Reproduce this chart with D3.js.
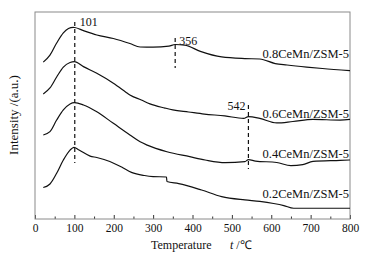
<!DOCTYPE html>
<html>
<head>
<meta charset="utf-8">
<script src="https://cdn.jsdelivr.net/npm/d3@7"></script>
<style>
  body { margin: 0; background: #fff; }
  text { font-family: "Liberation Serif", "Times New Roman", serif; fill: #111; }
</style>
</head>
<body>
<div id="chart"></div>
<script>
// temperatures (°C) sampled along each TPD curve
const temp08 = [21, 38, 55, 72, 85, 97, 101, 123, 157, 199, 241, 267, 300, 340, 356, 380, 420, 474, 533, 571, 610, 640, 690, 730, 800];
const int08 = [75.8, 79.2, 85.0, 89.9, 92.0, 92.6, 92.5, 91.0, 88.9, 87.2, 84.8, 83.1, 83.0, 83.5, 84.3, 84.0, 81.0, 78.3, 77.5, 77.3, 75.1, 74.4, 73.4, 72.7, 71.7];

const temp06 = [21, 38, 55, 72, 89, 100, 123, 157, 199, 230, 241, 270, 292, 330, 350, 390, 430, 482, 530, 542, 571, 614, 655, 706, 775, 800];
const int06 = [60.4, 63.3, 68.6, 73.4, 75.6, 76.0, 73.6, 70.4, 65.6, 61.4, 59.9, 57.5, 55.6, 53.6, 52.7, 51.7, 50.7, 49.8, 48.6, 49.5, 48.6, 46.4, 47.1, 48.1, 47.8, 48.1];

const temp04 = [21, 38, 55, 72, 89, 100, 123, 157, 199, 241, 267, 285, 335, 393, 432, 483, 533, 542, 560, 614, 650, 680, 706, 775, 800];
const int04 = [40.6, 42.2, 47.8, 52.7, 55.6, 56.2, 55.1, 51.8, 46.2, 40.6, 37.3, 35.7, 32.5, 30.1, 28.5, 27.2, 27.7, 28.7, 28.0, 27.3, 25.8, 26.3, 27.8, 28.3, 28.5];

const temp02 = [21, 38, 55, 72, 89, 99, 112, 140, 157, 190, 220, 245, 278, 300, 334, 335, 365, 423, 474, 533, 571, 606, 632, 657, 700, 800];
const int02 = [15.2, 16.9, 22.1, 28.5, 33.3, 34.6, 33.3, 30.4, 29.7, 27.8, 25.1, 22.5, 21.0, 20.5, 20.3, 18.1, 17.1, 14.0, 10.8, 9.2, 8.5, 7.5, 6.5, 5.2, 5.2, 5.2];

const seriesNames = ["0.8CeMn/ZSM-5", "0.6CeMn/ZSM-5", "0.4CeMn/ZSM-5", "0.2CeMn/ZSM-5"];

// marked peaks: temperature, dashed line extent (a.u.)
const peakTemps = [101, 356, 542];
const peakTop = [95.2, 87.4, 55.1];
const peakBottom = [27.1, 72.9, 24.2];

const xTicks = [0, 100, 200, 300, 400, 500, 600, 700, 800];
const xMinorTicks = [50, 150, 250, 350, 450, 550, 650, 750];

const width = 367;
const height = 259;
const margin = { top: 12, right: 17, bottom: 40, left: 35 };
const innerW = width - margin.left - margin.right;
const innerH = height - margin.top - margin.bottom;

const svg = d3.select("#chart").append("svg")
  .attr("width", width)
  .attr("height", height);

const g = svg.append("g").attr("transform", `translate(${margin.left},${margin.top})`);

const x = d3.scaleLinear().domain([0, 800]).range([0, innerW]);
const y = d3.scaleLinear().domain([0, 100]).range([innerH, 0]);

// minor ticks (inside)
g.append("g")
  .attr("transform", `translate(0,${innerH})`)
  .call(d3.axisBottom(x).tickValues(xMinorTicks).tickSizeInner(-2.5).tickSizeOuter(0).tickFormat(""))
  .call(a => a.select(".domain").remove())
  .call(a => a.selectAll("line").attr("stroke", "#333"));

// major ticks (inside) + labels
g.append("g")
  .attr("transform", `translate(0,${innerH})`)
  .call(d3.axisBottom(x).tickValues(xTicks).tickSizeInner(-4).tickSizeOuter(0).tickPadding(5))
  .call(a => a.select(".domain").remove())
  .call(a => a.selectAll("line").attr("stroke", "#333"))
  .call(a => a.selectAll("text")
    .style("font-family", "'Liberation Serif', 'Times New Roman', serif")
    .style("font-size", "11.5px")
    .attr("fill", "#111"));

// frame
g.append("rect")
  .attr("width", innerW)
  .attr("height", innerH)
  .attr("fill", "none")
  .attr("stroke", "#8a8a8a")
  .attr("stroke-width", 1);

const line = d3.line()
  .x(d => x(d[0]))
  .y(d => y(d[1]))
  .curve(d3.curveMonotoneX);

const series = [
  d3.zip(temp08, int08),
  d3.zip(temp06, int06),
  d3.zip(temp04, int04),
  d3.zip(temp02, int02)
];

g.selectAll(".curve")
  .data(series)
  .enter()
  .append("path")
  .attr("class", "curve")
  .attr("d", line)
  .attr("fill", "none")
  .attr("stroke", "#111")
  .attr("stroke-width", 1.2);

// dashed peak markers
g.selectAll(".peak")
  .data(peakTemps)
  .enter()
  .append("line")
  .attr("class", "peak")
  .attr("x1", d => x(d))
  .attr("x2", d => x(d))
  .attr("y1", (d, i) => y(peakTop[i]))
  .attr("y2", (d, i) => y(peakBottom[i]))
  .attr("stroke", "#111")
  .attr("stroke-width", 1.2)
  .attr("stroke-dasharray", "4,3");

// peak labels
const peakLabelDx = [5, 4, -3];
const peakLabelDy = [4.5, 6.5, 5];
const peakAnchor = ["start", "start", "end"];
g.selectAll(".peak-label")
  .data(peakTemps)
  .enter()
  .append("text")
  .attr("class", "peak-label")
  .attr("x", (d, i) => x(d) + peakLabelDx[i])
  .attr("y", (d, i) => y(peakTop[i]) + peakLabelDy[i])
  .attr("text-anchor", (d, i) => peakAnchor[i])
  .attr("fill", "#111")
  .style("font-size", "12px")
  .text(d => d);

// series labels at right end
const labelLevel = [78.0, 48.8, 29.5, 10.1];
g.selectAll(".series-label")
  .data(seriesNames)
  .enter()
  .append("text")
  .attr("class", "series-label")
  .attr("x", innerW - 1)
  .attr("y", (d, i) => y(labelLevel[i]))
  .attr("text-anchor", "end")
  .attr("fill", "#111")
  .style("font-size", "12.5px")
  .text(d => d);

// axis titles
const xt = svg.append("text")
  .attr("x", 151)
  .attr("y", 249)
  .style("font-size", "12px");
xt.append("tspan").text("Temperature");
xt.append("tspan").attr("x", 230).style("font-style", "italic").text("t");
xt.append("tspan").text(" /℃");

svg.append("text")
  .attr("transform", "translate(18,115) rotate(-90)")
  .attr("text-anchor", "middle")
  .style("font-size", "13px")
  .text("Intensity /(a.u.)");
</script>
</body>
</html>
